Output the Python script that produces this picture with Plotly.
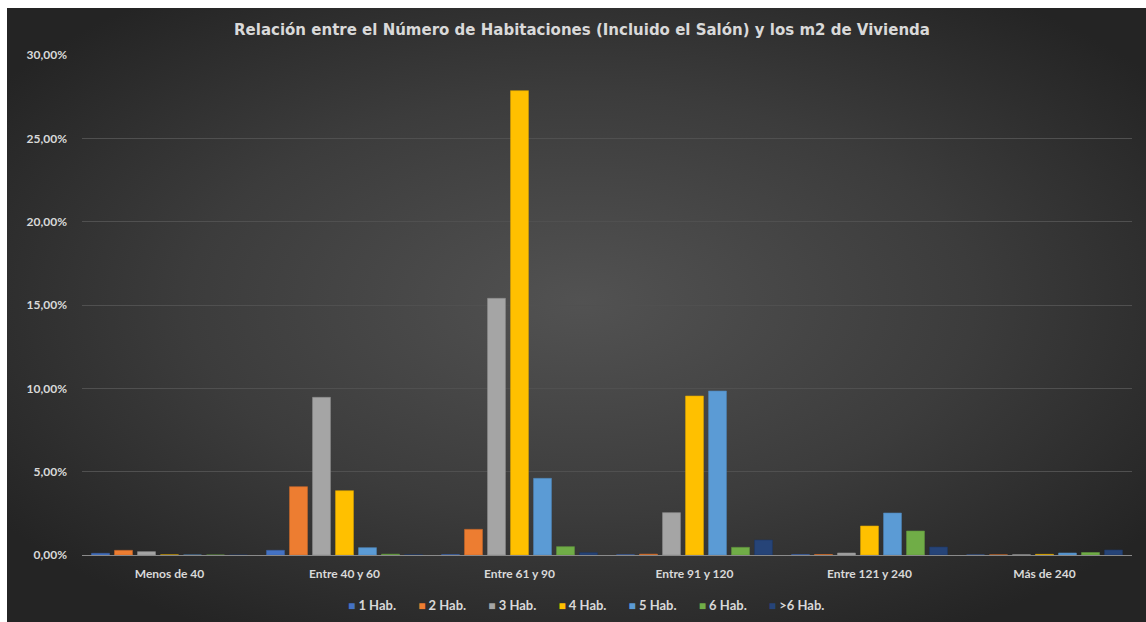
import urllib.parse
import plotly.graph_objects as go

categories = ["Menos de 40", "Entre 40 y 60", "Entre 61 y 90", "Entre 91 y 120", "Entre 121 y 240", "Más de 240"]
series_names = ["1 Hab.", "2 Hab.", "3 Hab.", "4 Hab.", "5 Hab.", "6 Hab.", ">6 Hab."]
# values in percent
hab1 = [0.10, 0.28, 0.02, 0.01, 0.02, 0.00]
hab2 = [0.28, 4.10, 1.54, 0.05, 0.03, 0.01]
hab3 = [0.20, 9.46, 15.40, 2.54, 0.12, 0.02]
hab4 = [0.01, 3.86, 27.86, 9.54, 1.74, 0.04]
hab5 = [0.00, 0.44, 4.60, 9.84, 2.52, 0.12]
hab6 = [0.00, 0.05, 0.50, 0.46, 1.44, 0.15]
hab7 = [0.00, 0.02, 0.14, 0.90, 0.48, 0.30]
y_ticks = [0, 5, 10, 15, 20, 25, 30]

series_values = [hab1, hab2, hab3, hab4, hab5, hab6, hab7]
colors = ["#4472C4", "#ED7D31", "#A5A5A5", "#FFC000", "#5B9BD5", "#70AD47", "#264478"]
edge = ["#3A62A8", "#C9682A", "#8C8C8C", "#D9A300", "#4D84B5", "#5F933C", "#1F3863"]

fig = go.Figure()
for name, vals, c, e in zip(series_names, series_values, colors, edge):
    fig.add_trace(go.Bar(
        name=name, x=categories, y=[v / 100 for v in vals],
        marker=dict(color=c, line=dict(color=e, width=0.6)),
        showlegend=False,
    ))

W, H = 1146, 622
L, R, T, B = 82, 14, 55, 67
pw, ph = W - L - R, H - T - B

svg = ("<svg xmlns='http://www.w3.org/2000/svg' width='1139' height='614' viewBox='0 0 1139 614' preserveAspectRatio='none'>"
       "<defs><radialGradient id='g' cx='50%' cy='48%' r='62%' gradientUnits='objectBoundingBox'>"
       "<stop offset='0' stop-color='#525252'/><stop offset='0.55' stop-color='#3c3c3c'/>"
       "<stop offset='1' stop-color='#242424'/></radialGradient></defs>"
       "<rect width='1139' height='614' fill='url(#g)'/></svg>")
src = "data:image/svg+xml;charset=utf-8," + urllib.parse.quote(svg)

x0 = (7 - L) / pw
x1 = (W + 10 - L) / pw
ytop = (H - B - 8) / ph
ybot = (H - B - H) / ph

fig.add_layout_image(dict(
    source=src, xref="paper", yref="paper", x=x0, y=ytop,
    sizex=x1 - x0, sizey=ytop - ybot, sizing="stretch",
    xanchor="left", yanchor="top", layer="below", opacity=1,
))

# custom legend text (Excel style: small square right next to the label)
nb = "\u00a0"
parts = []
for name, c in zip(series_names, colors):
    parts.append(f"<span style='color:{c};font-size:12px'>■</span>{nb}{name}")
legend_text = (nb * 7).join(parts)
fig.add_annotation(
    text=legend_text, xref="paper", yref="paper",
    x=(586 - L) / pw, y=(H - B - 605) / ph, xanchor="center", yanchor="middle",
    showarrow=False, font=dict(family="Lato", size=13, color="#d9d9d9", weight="bold"),
)

fig.update_layout(
    width=W, height=H,
    margin=dict(l=L, r=R, t=T, b=B, pad=0),
    paper_bgcolor="white", plot_bgcolor="rgba(0,0,0,0)",
    separators=",.",
    barmode="group", bargap=0.08, bargroupgap=0.22,
    font=dict(family="Lato", color="#d9d9d9", size=11),
    title=dict(
        text="Relación entre el Número de Habitaciones (Incluido el Salón) y los m2 de Vivienda",
        x=582 / W, xref="container", xanchor="center", y=1 - 30 / H, yanchor="middle",
        font=dict(family="DejaVu Sans", size=15, color="#d9d9d9", weight="bold"),
    ),
    xaxis=dict(
        showgrid=False, showline=True, linecolor="#8a8a8a", linewidth=1,
        tickfont=dict(size=12, color="#d9d9d9", weight="bold"), ticks="",
        ticklabelstandoff=8, fixedrange=True,
    ),
    yaxis=dict(
        range=[0, 0.30], tickvals=[t / 100 for t in y_ticks], tickformat=".2%",
        showgrid=True, gridcolor="#505050", gridwidth=1, zeroline=False,
        tickfont=dict(size=12, color="#d9d9d9", weight="bold"), ticks="",
        ticklabelstandoff=14, fixedrange=True,
    ),
    showlegend=False,
)

fig.write_html(
    "out.html",
    config={"displayModeBar": False},
    post_script="document.documentElement.style.overflow='hidden';"
                "document.body.style.margin='0';document.body.style.overflow='hidden';"
                "document.body.style.background='#262626';"
                "document.documentElement.style.background='#262626';",
)
